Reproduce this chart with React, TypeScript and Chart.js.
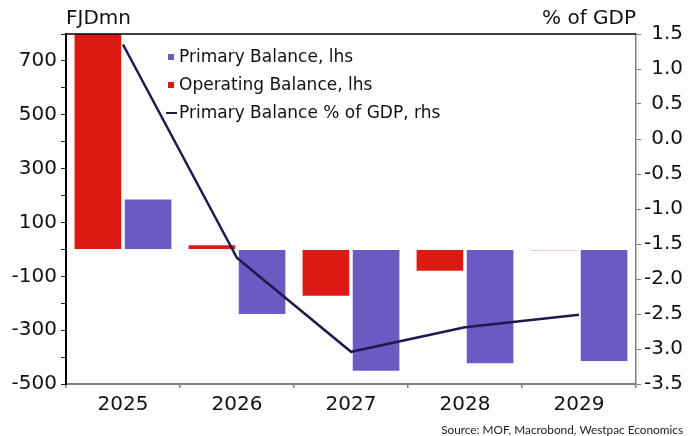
import React, { useEffect, useRef } from "react";
import { Chart, registerables } from "chart.js";

Chart.register(...registerables);

const categories = ["2025", "2026", "2027", "2028", "2029"];
const primaryBalance = [185, -240, -451, -423, -415];
const operatingBalance = [800, 15, -172, -79, -3];
const primaryPctGdp = [1.35, -1.7, -3.04, -2.69, -2.51];

const leftTicks = [-500, -400, -300, -200, -100, 0, 100, 200, 300, 400, 500, 600, 700, 800];
const leftLabelled = [-500, -300, -100, 100, 300, 500, 700];

const legendLabels = [
  "Primary Balance, lhs",
  "Operating Balance, lhs",
  "Primary Balance % of GDP, rhs",
];

const PURPLE = "#6a5bc2";
const RED = "#dc1a14";
const NAVY = "#1e1a4d";
const FONT = "'DejaVu Sans', sans-serif";

export default function App() {
  const ref = useRef<HTMLCanvasElement | null>(null);

  useEffect(() => {
    document.body.style.margin = "0";
    const canvas = ref.current;
    if (!canvas) return;

    const overlay = {
      id: "overlay",
      afterDraw(chart: any) {
        const ctx = chart.ctx;
        const a = chart.chartArea;
        ctx.save();
        // top border
        ctx.strokeStyle = "#000";
        ctx.lineWidth = 1.5;
        ctx.beginPath();
        ctx.moveTo(a.left, a.top);
        ctx.lineTo(a.right, a.top);
        ctx.stroke();
        // axis titles
        ctx.fillStyle = "#111";
        ctx.font = `20px ${FONT}`;
        ctx.textBaseline = "middle";
        ctx.textAlign = "left";
        ctx.fillText("FJDmn", a.left, 19);
        ctx.textAlign = "right";
        ctx.fillText("% of GDP", a.right, 19);
        // legend
        const lx = 168;
        const tx = 179;
        const rows = [57, 85, 113];
        ctx.font = `17px ${FONT}`;
        ctx.textAlign = "left";
        ctx.fillStyle = PURPLE;
        ctx.fillRect(lx, rows[0] - 3, 6, 6);
        ctx.fillStyle = RED;
        ctx.fillRect(lx, rows[1] - 3, 6, 6);
        ctx.strokeStyle = NAVY;
        ctx.lineWidth = 2;
        ctx.beginPath();
        ctx.moveTo(166, rows[2]);
        ctx.lineTo(177, rows[2]);
        ctx.stroke();
        ctx.fillStyle = "#111";
        legendLabels.forEach((t, i) => ctx.fillText(t, tx, rows[i] + 1));
        // source
        ctx.font = `11.8px Lato, sans-serif`;
        ctx.textAlign = "right";
        ctx.fillStyle = "#222";
        ctx.fillText("Source: MOF, Macrobond, Westpac Economics", 683, 430);
        ctx.restore();
      },
    };

    const chart = new Chart(canvas, {
      type: "bar",
      data: {
        labels: categories,
        datasets: [
          {
            type: "line",
            label: legendLabels[2],
            data: primaryPctGdp,
            yAxisID: "y1",
            borderColor: NAVY,
            backgroundColor: NAVY,
            borderWidth: 2.5,
            pointRadius: 0,
            tension: 0,
            order: 0,
          } as any,
          {
            label: legendLabels[1],
            data: operatingBalance,
            yAxisID: "y",
            backgroundColor: RED,
            borderWidth: 0,
            order: 1,
          },
          {
            label: legendLabels[0],
            data: primaryBalance,
            yAxisID: "y",
            backgroundColor: PURPLE,
            borderWidth: 0,
            order: 1,
          },
        ],
      },
      options: {
        responsive: false,
        animation: false,
        devicePixelRatio: 1,
        layout: { padding: { top: 34, left: 0, right: 15, bottom: 0 } },
        datasets: {
          bar: { categoryPercentage: 0.88, barPercentage: 0.93 },
        },
        plugins: {
          legend: { display: false },
          tooltip: { enabled: false },
        },
        scales: {
          x: {
            offset: true,
            grid: {
              offset: true,
              drawOnChartArea: false,
              drawTicks: true,
              tickLength: 4,
              color: "#808080",
              lineWidth: 1.5,
            },
            border: { color: "#808080", width: 2 },
            ticks: {
              font: { family: FONT, size: 20 },
              color: "#111",
              padding: 5,
              maxRotation: 0,
            },
            afterFit: (s: any) => {
              s.height = 52;
            },
          },
          y: {
            position: "left",
            min: -500,
            max: 800,
            afterBuildTicks: (s: any) => {
              s.ticks = leftTicks.map((v) => ({ value: v }));
            },
            grid: {
              drawOnChartArea: false,
              tickLength: 5,
              color: "#222",
              lineWidth: 1,
            },
            border: { color: "#000", width: 2 },
            ticks: {
              font: { family: FONT, size: 20 },
              color: "#111",
              padding: 4,
              autoSkip: false,
              callback: (v: any) => (leftLabelled.includes(Number(v)) ? String(v) : ""),
            },
            afterFit: (s: any) => {
              s.width = 66;
            },
          },
          y1: {
            position: "right",
            min: -3.5,
            max: 1.5,
            grid: {
              drawOnChartArea: false,
              tickLength: 5,
              color: "#808080",
              lineWidth: 1,
            },
            border: { color: "#808080", width: 1.5 },
            ticks: {
              stepSize: 0.5,
              font: { family: FONT, size: 20 },
              color: "#111",
              padding: 3,
              crossAlign: "far",
              autoSkip: false,
              callback: (v: any) => Number(v).toFixed(1),
            },
            afterFit: (s: any) => {
              s.width = 47;
            },
          },
        },
      },
      plugins: [overlay],
    });

    return () => chart.destroy();
  }, []);

  return (
    <div style={{ position: "absolute", left: 0, top: 0, width: 698, height: 436 }}>
      <canvas ref={ref} width={698} height={436} />
    </div>
  );
}
